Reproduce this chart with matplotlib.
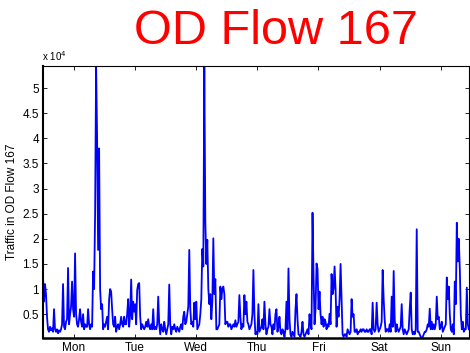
import numpy as np
import matplotlib
matplotlib.use("Agg")
import matplotlib.pyplot as plt

# traffic per sample (x 10^4), one week starting Monday 00:00
traffic = [
    1.25, 0.75, 1.1, 0.9, 0.45, 0.2, 0.15, 0.25, 0.18, 0.22, 0.15, 0.6, 0.2, 0.15, 0.2, 0.12,
    0.18, 0.15, 0.2, 0.3, 1.1, 0.25, 0.2, 0.35, 0.4, 1.42, 0.3, 0.5, 0.65, 1.15, 0.6, 0.45,
    1.71, 0.5, 0.3, 0.25, 0.4, 0.6, 0.35, 0.25, 0.5, 0.2, 0.3, 0.25, 0.25, 0.6, 0.3, 0.2,
    0.3, 0.25, 1.35, 1.0, 2.5, 5.44, 4.0, 1.78, 3.8, 1.0, 0.6, 0.7, 0.2, 0.3, 0.25, 0.35,
    0.45, 0.2, 0.8, 1.0, 0.95, 0.6, 0.3, 0.25, 0.45, 0.15, 0.25, 0.3, 0.2, 0.3, 0.45, 0.3,
    0.25, 0.45, 0.3, 0.3, 0.5, 0.8, 0.25, 0.5, 1.19, 0.4, 0.75, 0.55, 0.7, 0.3, 0.98, 1.1,
    1.12, 0.45, 0.2, 0.3, 0.25, 0.2, 0.25, 0.35, 0.25, 0.4, 0.25, 0.2, 0.3, 0.2, 0.6, 0.2,
    0.25, 0.2, 0.3, 0.85, 0.3, 0.1, 0.3, 0.2, 0.15, 0.35, 0.2, 0.1, 0.2, 0.3, 1.09, 0.3,
    0.1, 0.25, 0.2, 0.3, 0.2, 0.15, 0.25, 0.2, 0.15, 0.25, 0.3, 0.2, 0.45, 0.55, 0.3, 0.35,
    0.5, 0.65, 1.78, 0.6, 0.3, 0.35, 0.25, 0.73, 0.4, 0.75, 0.2, 0.25, 0.3, 0.5, 0.8, 1.8,
    1.45, 5.44, 2.35, 1.5, 1.98, 1.0, 0.7, 0.9, 0.4, 0.75, 2.01, 0.9, 1.2, 0.2, 0.2, 0.25,
    0.3, 1.05, 0.8, 1.0, 1.05, 0.9, 0.3, 0.35, 0.35, 0.25, 0.3, 0.3, 0.2, 0.25, 0.3, 0.25,
    0.38, 0.25, 0.3, 0.35, 0.88, 0.45, 0.2, 0.3, 0.25, 0.88, 0.5, 0.75, 0.35, 0.3, 0.2, 0.25,
    0.3, 0.5, 1.38, 0.5, 0.1, 0.15, 0.1, 0.7, 0.15, 0.2, 0.25, 0.4, 0.2, 0.75, 0.3, 0.1,
    0.2, 0.25, 0.6, 0.3, 0.25, 0.1, 0.3, 0.2, 0.5, 0.6, 0.15, 0.25, 0.45, 0.15, 0.1, 0.2,
    0.15, 0.05, 0.2, 0.75, 0.2, 1.41, 0.4, 0.1, 0.05, 0.15, 0.1, 0.05, 0.6, 0.9, 0.4, 0.1,
    0.08, 0.05, 0.15, 0.35, 0.1, 0.05, 0.1, 0.15, 0.2, 0.1, 0.5, 0.3, 0.2, 2.52, 1.3, 0.3,
    0.6, 1.51, 1.4, 0.6, 0.95, 0.5, 0.3, 0.45, 0.25, 0.4, 0.35, 0.2, 0.3, 0.25, 0.51, 0.3,
    1.3, 0.9, 1.0, 1.45, 1.0, 0.25, 0.65, 0.45, 0.8, 1.5, 0.8, 0.1, 0.05, 0.1, 0.1, 0.05,
    0.2, 0.15, 0.1, 0.15, 0.8, 0.45, 0.5, 0.15, 0.15, 0.2, 0.1, 0.15, 0.15, 0.2, 0.15, 0.2,
    0.2, 0.15, 0.15, 0.2, 0.15, 0.15, 0.2, 0.2, 0.1, 0.73, 0.2, 0.15, 0.2, 0.73, 0.3, 0.15,
    0.2, 0.25, 0.35, 1.38, 0.8, 0.4, 0.15, 0.2, 0.2, 0.15, 0.3, 0.15, 0.85, 0.25, 1.36, 0.4,
    0.15, 0.3, 0.2, 0.15, 0.2, 0.25, 0.7, 0.2, 0.1, 0.2, 0.15, 0.1, 0.15, 0.2, 0.6, 0.93,
    0.2, 0.1, 0.15, 0.1, 0.2, 2.19, 0.15, 0.15, 0.1, 0.05, 0.03, 0.05, 0.1, 0.15, 0.15, 0.2,
    0.3, 0.25, 0.61, 0.2, 0.35, 0.2, 0.3, 0.2, 0.3, 0.85, 0.4, 0.45, 0.2, 0.25, 0.35, 0.15,
    0.2, 0.25, 0.3, 1.23, 0.8, 1.05, 0.5, 0.2, 0.15, 0.3, 0.1, 1.15, 0.7, 2.32, 1.55, 2.0,
    1.4, 0.5, 0.2, 0.35, 0.15, 0.2, 0.2, 1.03, 0.3, 0.2,
]
week_hours = 167
day_labels = ["Mon", "Tue", "Wed", "Thu", "Fri", "Sat", "Sun"]
day_ticks = [12, 36, 60, 84, 108, 132, 156]  # noon of each day
y_ticks = [0.5, 1, 1.5, 2, 2.5, 3, 3.5, 4, 4.5, 5]
y_ticklabels = ["0.5", "1", "1.5", "2", "2.5", "3", "3.5", "4", "4.5", "5"]

plt.rcParams["font.family"] = ["Liberation Sans", "DejaVu Sans"]

hours = np.linspace(0, week_hours, len(traffic))

fig = plt.figure(figsize=(4.70, 3.53), dpi=100)
ax = fig.add_axes([0.0915, 0.043, 0.906, 0.770])
ax.plot(hours, traffic, color="#0000ff", linewidth=1.3)
ax.set_xlim(hours[0], hours[-1])
ax.set_ylim(min(traffic), max(traffic))

ax.set_xticks(day_ticks)
ax.set_xticklabels(day_labels, fontsize=8.5)
ax.set_yticks(y_ticks)
ax.set_yticklabels(y_ticklabels, fontsize=8.5)
ax.tick_params(direction="in", top=True, right=True, length=3, width=0.6, pad=3)
for s in ax.spines.values():
    s.set_linewidth(0.8)
ax.spines["left"].set_linewidth(1.5)
ax.spines["bottom"].set_linewidth(1.8)
ax.set_ylabel("Traffic in OD Flow 167", fontsize=8.5, labelpad=3)

fig.text(0.09, 0.822, "x 10$^4$", fontsize=7, ha="left", va="bottom")
fig.text(0.588, 0.975, "OD Flow 167", color="#ff0000", fontsize=35,
         ha="center", va="top")

fig.savefig("out.png", dpi=100)
